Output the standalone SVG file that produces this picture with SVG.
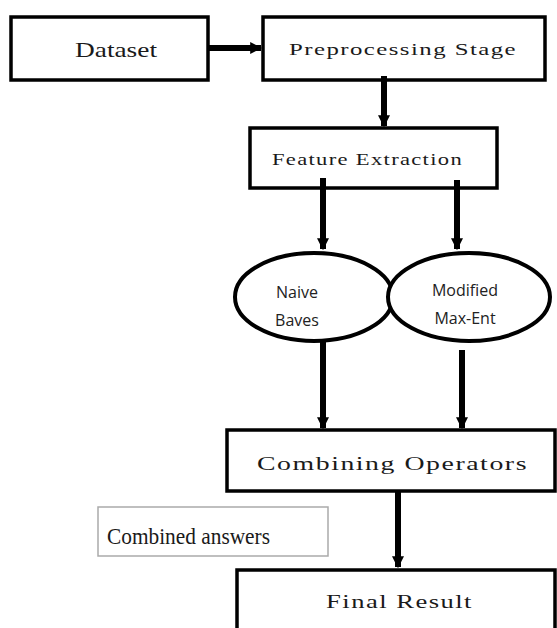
<svg xmlns="http://www.w3.org/2000/svg" width="557" height="628" viewBox="0 0 557 628">
<style>
.box{fill:#fff;stroke:#000;stroke-width:3.5}
.ell{fill:#fff;stroke:#000;stroke-width:4}
.ser{font-family:"Liberation Serif",serif;fill:#1a1a1a}
.sans{font-family:"Open Sans","Liberation Sans",sans-serif;fill:#222;font-size:16px}
.conn{stroke:#000;stroke-width:6;fill:none}
</style>
<defs>
<marker id="ah" viewBox="0 0 10 10" refX="9" refY="5" markerWidth="2" markerHeight="2" orient="auto" markerUnits="strokeWidth">
<path d="M0,0 L10,5 L0,10 z" fill="#000"/>
</marker>
</defs>
<g id="dataset">
<rect class="box" x="11" y="17" width="197" height="63"/>
<text class="ser" x="75" y="57" font-size="21" textLength="82" lengthAdjust="spacingAndGlyphs">Dataset</text>
</g>
<g id="preprocessing">
<rect class="box" x="263" y="17" width="282" height="63"/>
<text class="ser" x="289" y="55" font-size="17" letter-spacing="1" textLength="228" lengthAdjust="spacingAndGlyphs">Preprocessing Stage</text>
</g>
<g id="feature">
<rect class="box" x="250" y="128" width="247" height="60"/>
<text class="ser" x="272" y="165" font-size="17" letter-spacing="1" textLength="191" lengthAdjust="spacingAndGlyphs">Feature Extraction</text>
</g>
<g id="naive">
<ellipse class="ell" cx="314" cy="297" rx="79" ry="44"/>
<text class="sans" x="297" y="298" text-anchor="middle">Naive</text>
<text class="sans" x="297" y="326" text-anchor="middle">Baves</text>
</g>
<g id="maxent">
<ellipse class="ell" cx="469" cy="297" rx="81" ry="44"/>
<text class="sans" x="465" y="296" text-anchor="middle">Modified</text>
<text class="sans" x="465" y="324" text-anchor="middle">Max-Ent</text>
</g>
<g id="combining">
<rect class="box" x="227" y="430" width="328" height="61"/>
<text class="ser" x="257" y="470" font-size="18" letter-spacing="1" textLength="271" lengthAdjust="spacingAndGlyphs">Combining Operators</text>
</g>
<g id="combined">
<rect x="98" y="507" width="230" height="49" fill="#fff" stroke="#aaa" stroke-width="1.5"/>
<text class="ser" x="107" y="544" font-size="23" textLength="163" lengthAdjust="spacingAndGlyphs">Combined answers</text>
</g>
<g id="final">
<rect class="box" x="237" y="570" width="318" height="70"/>
<text class="ser" x="326" y="608" font-size="18" letter-spacing="1" textLength="147" lengthAdjust="spacingAndGlyphs">Final Result</text>
</g>
<g id="connectors">
<line class="conn" x1="208" y1="48" x2="261" y2="48" marker-end="url(#ah)"/>
<line class="conn" x1="384" y1="76" x2="384" y2="126" marker-end="url(#ah)"/>
<line class="conn" x1="323" y1="178" x2="323" y2="249" marker-end="url(#ah)"/>
<line class="conn" x1="457" y1="180" x2="457" y2="249" marker-end="url(#ah)"/>
<line class="conn" x1="323" y1="340" x2="323" y2="428" marker-end="url(#ah)"/>
<line class="conn" x1="462" y1="350" x2="462" y2="428" stroke-width="5" marker-end="url(#ah)"/>
<line class="conn" x1="398" y1="491" x2="398" y2="567" marker-end="url(#ah)"/>
</g>
</svg>
